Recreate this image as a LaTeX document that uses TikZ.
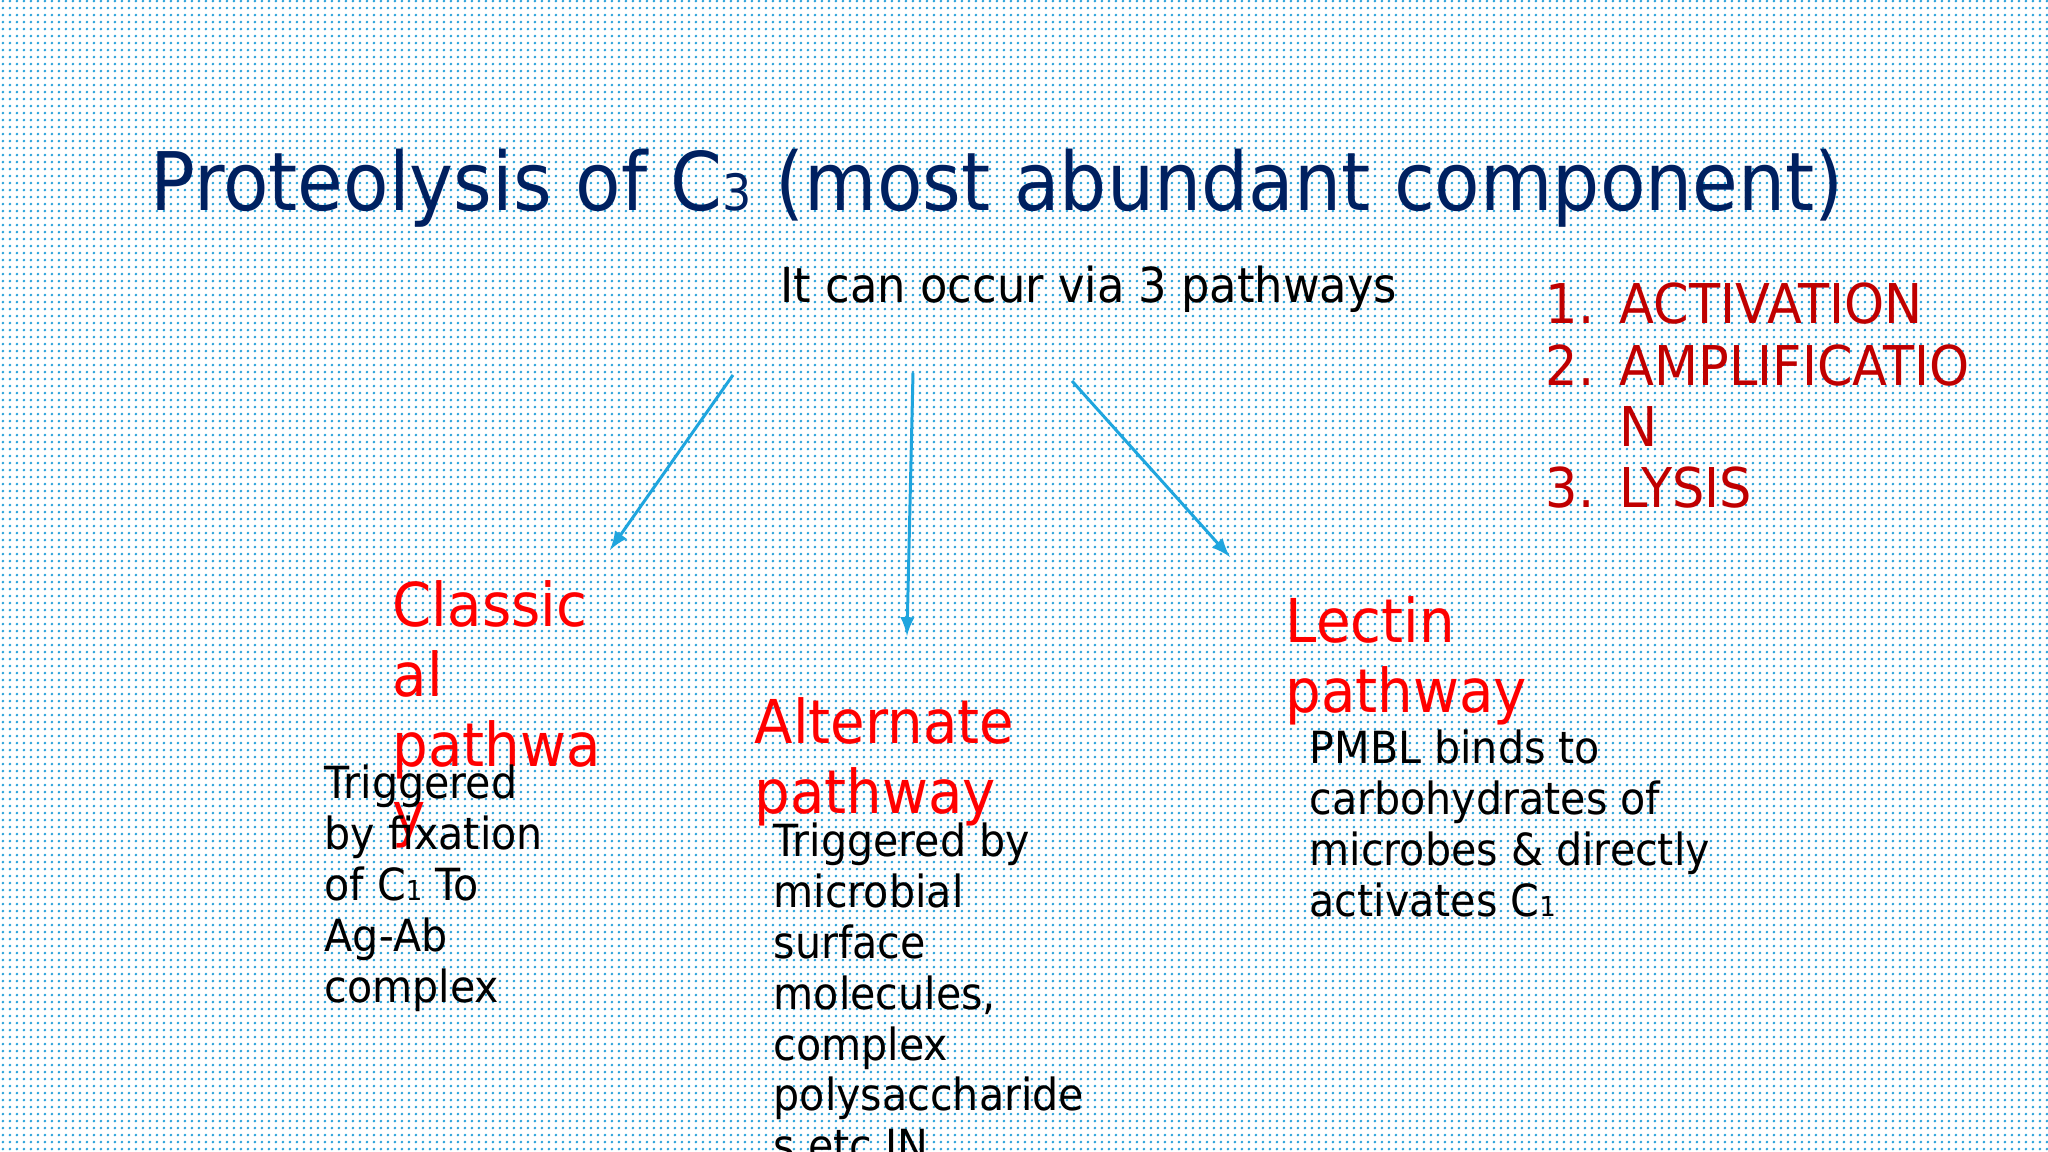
\documentclass[tikz,border=0pt]{standalone}
\usepackage{fontspec}
\setmainfont[FakeStretch=0.93]{DejaVu Sans}
\newfontfamily\titlefont[FakeStretch=0.92]{DejaVu Sans}
\usetikzlibrary{positioning,arrows,patterns}
\definecolor{titleblue}{HTML}{002060}
\definecolor{listred}{HTML}{C00000}
\definecolor{headred}{HTML}{FF0000}
\definecolor{arrowblue}{HTML}{1FA5DE}
\definecolor{dotblue}{HTML}{2BA2DA}
% dotted slide background
\pgfdeclarepatternformonly{slide dots}{\pgfpointorigin}{\pgfpoint{1.85pt}{1.85pt}}{\pgfpoint{1.85pt}{1.85pt}}{
    \pgfpathcircle{\pgfpoint{0.9pt}{0.9pt}}{0.44pt}
    \pgfusepath{fill}
}
\newcommand{\subdig}[1]{\scalebox{0.62}{#1}}
% lines hang from the first baseline
\newcommand{\lines}[1]{\begin{tabular}[t]{@{}l@{}}#1\end{tabular}}
\tikzset {
    style title/.style={
        font=\titlefont\fontsize{23}{27}\selectfont,
        text=titleblue,
        inner sep=0pt,
        anchor=base west,
    },
    style text/.style={
        font=\fontsize{12.6}{14.45}\selectfont,
        text=black,
        inner sep=0pt,
        anchor=base west,
    },
    style head/.style={
        font=\fontsize{17.2}{19.8}\selectfont,
        text=headred,
        inner sep=0pt,
        anchor=base west,
    },
    style list/.style={
        font=\fontsize{15.6}{17.4}\selectfont,
        text=listred,
        inner sep=0pt,
        anchor=base west,
    },
    style arrow/.style={
        draw=arrowblue,
        line width=0.85pt,
        -latex,
    },
}
\newcommand{\num}[1]{\makebox[0.74cm][l]{#1}}

\begin{document}
\begin{tikzpicture}
    % slide
    \useasboundingbox (0,0) rectangle (20.48,11.52);
    \fill[white] (0,0) rectangle (20.48,11.52);
    \fill[pattern=slide dots, pattern color=dotblue] (0,0) rectangle (20.48,11.52);

    \node[style title] (title) at (1.50,9.41) {Proteolysis of C\subdig{3} (most abundant component)};
    \node[style text, font=\fontsize{13.7}{16}\selectfont] (ways) at (7.80,8.49) {It can occur via 3 pathways};

    \node[style list] (steps) at (15.45,8.28)
        {\lines{\num{1.}ACTIVATION\\ \num{2.}AMPLIFICATIO\\ \num{}N\\ \num{3.}LYSIS}};

    % the three pathways
    \node[style head] (classical) at (3.92,5.25) {\lines{Classic\\al\\pathwa\\y}};
    \node[style text] (classical text) at (3.24,3.53)
        {\lines{Triggered\\by fixation\\of C\subdig{1} To\\Ag-Ab\\complex}};

    \node[style head] (alternate) at (7.54,4.08) {\lines{Alternate\\pathway}};
    \node[style text] (alternate text) at (7.73,2.95)
        {\lines{Triggered by\\microbial\\surface\\molecules,\\complex\\polysaccharide\\s etc IN}};

    \node[style head] (lectin) at (12.85,5.09) {\lines{Lectin\\pathway}};
    \node[style text] (lectin text) at (13.09,3.88)
        {\lines{PMBL binds to\\carbohydrates of\\microbes \& directly\\activates C\subdig{1}}};

    % arrows
    \coordinate (from classical) at (7.33,7.77);
    \coordinate (to classical) at (6.10,6.02);
    \coordinate (from alternate) at (9.13,7.79);
    \coordinate (to alternate) at (9.07,5.16);
    \coordinate (from lectin) at (10.72,7.71);
    \coordinate (to lectin) at (12.30,5.95);
    \draw[style arrow] (from classical) -- (to classical);
    \draw[style arrow] (from alternate) -- (to alternate);
    \draw[style arrow] (from lectin) -- (to lectin);
\end{tikzpicture}
\end{document}
